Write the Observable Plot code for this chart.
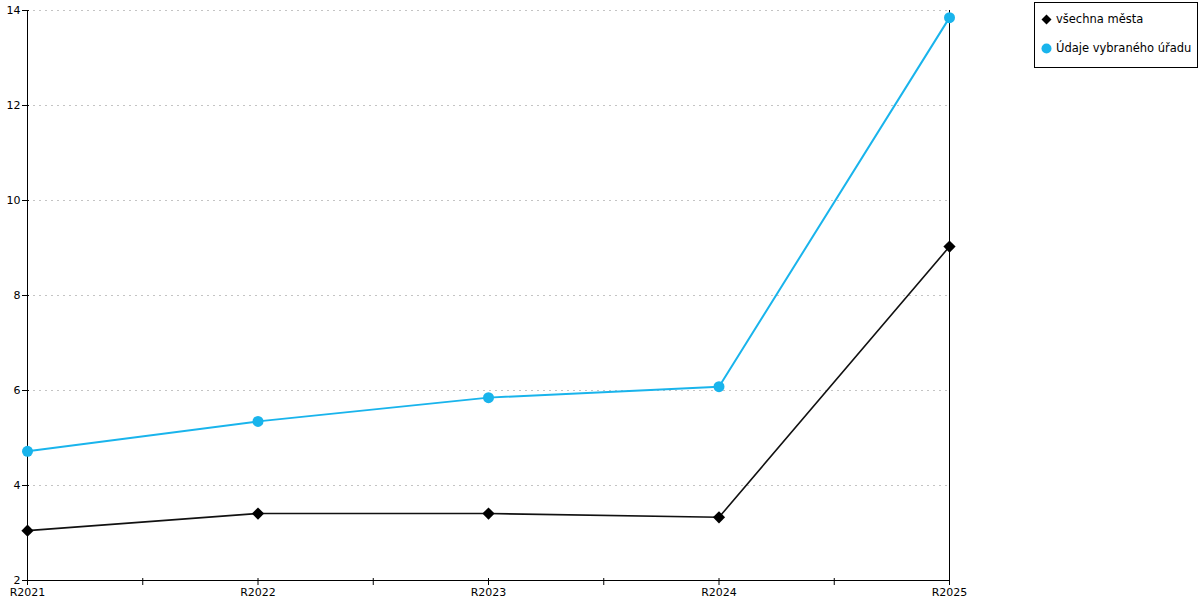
<!DOCTYPE html>
<html>
<head>
<meta charset="utf-8">
<script src="https://cdn.jsdelivr.net/npm/d3@7"></script>
<script src="https://cdn.jsdelivr.net/npm/@observablehq/plot@0.6"></script>
<style>
  html, body { margin: 0; padding: 0; background: #fff; }
  #wrap { position: relative; width: 1200px; height: 600px; font-family: "DejaVu Sans", sans-serif; }
  #legend { position: absolute; left: 1034px; top: 2px; width: 162px; height: 64px; border: 1px solid #000; background: #fff; font-size: 11.5px; color: #000; }
  .item { position: absolute; left: 6px; display: flex; align-items: center; white-space: nowrap; }
  .item svg { margin-right: 4px; }
</style>
</head>
<body>
<div id="wrap"></div>
<script>
const years = ["R2021", "R2022", "R2023", "R2024", "R2025"];
const allCities = [3.05, 3.41, 3.41, 3.33, 9.03];
const selectedOffice = [4.72, 5.35, 5.85, 6.08, 13.85];
const seriesNames = ["všechna města", "Údaje vybraného úřadu"];
const yTicks = [2, 4, 6, 8, 10, 12, 14];

const rowsA = years.map((y, i) => ({i, v: allCities[i]}));
const rowsB = years.map((y, i) => ({i, v: selectedOffice[i]}));
const xTicks = d3.range(0, 2 * (years.length - 1) + 1).map(k => k / 2);
const blue = "#19b4ec";

const chart = Plot.plot({
  width: 1200,
  height: 600,
  marginLeft: 27,
  marginRight: 251,
  marginTop: 10,
  marginBottom: 20,
  style: {fontFamily: "DejaVu Sans, sans-serif", fontSize: "11px", color: "#000", background: "#fff"},
  x: {type: "linear", domain: [0, years.length - 1]},
  y: {domain: [2, 14]},
  marks: [
    Plot.gridY(yTicks.filter(t => t > 2), {stroke: "#c4c4c4", strokeOpacity: 1, strokeDasharray: "2,4"}),
    Plot.axisY(yTicks, {tickSize: 0, tickPadding: 7, label: null}),
    Plot.axisX(xTicks, {tickSize: 7, dy: -2, tickFormat: () => "", label: null}),
    Plot.axisX(xTicks, {tickSize: 0, tickPadding: 8, label: null,
      tickFormat: d => Number.isInteger(d) ? years[d] : ""}),
    Plot.ruleY([2], {stroke: "#000"}),
    Plot.ruleX([0, years.length - 1], {stroke: "#000", y1: 2, y2: 14}),
    Plot.axisY(yTicks, {tickSize: 7, dx: 2, tickFormat: () => "", label: null}),
    Plot.line(rowsA, {x: "i", y: "v", stroke: "#111", strokeWidth: 1.6}),
    Plot.line(rowsB, {x: "i", y: "v", stroke: blue, strokeWidth: 2}),
    Plot.dot(rowsA, {x: "i", y: "v", symbol: "diamond2", r: 5.5, fill: "#000", stroke: "none"}),
    Plot.dot(rowsB, {x: "i", y: "v", symbol: "circle", r: 5.5, fill: blue, stroke: "none"})
  ]
});
document.getElementById("wrap").appendChild(chart);

const legend = document.createElement("div");
legend.id = "legend";
legend.innerHTML = `
  <div class="item" style="top:9px"><svg width="11" height="11"><path d="M5.5,0.5L10.5,5.5L5.5,10.5L0.5,5.5Z" fill="#000"/></svg>${seriesNames[0]}</div>
  <div class="item" style="top:38px"><svg width="11" height="11"><circle cx="5.5" cy="5.5" r="5" fill="${blue}"/></svg>${seriesNames[1]}</div>`;
document.getElementById("wrap").appendChild(legend);
</script>
</body>
</html>
